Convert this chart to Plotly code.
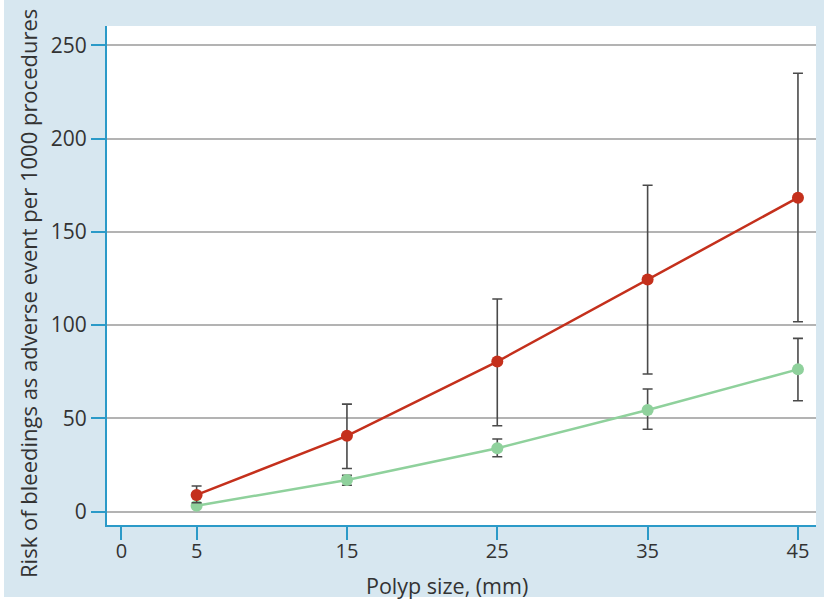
import plotly.graph_objects as go

polyp_size = [5, 15, 25, 35, 45]
red_values = [9, 40.7, 80.5, 124.5, 168.3]
red_upper = [13.8, 57.7, 114, 175, 235]
red_lower = [4.8, 23.2, 46.1, 73.8, 101.8]
green_values = [3.2, 17, 34, 54.5, 76.3]
green_upper = [3.2, 19.5, 39, 65.8, 92.9]
green_lower = [3.2, 14.2, 29.5, 44.2, 59.5]

x_ticks = [0, 5, 15, 25, 35, 45]
y_ticks = [0, 50, 100, 150, 200, 250]

FONT = "Open Sans"
TXT = "#333333"
AXIS_BLUE = "#2b9ac8"
BG_BLUE = "#d7e7f0"

W, H = 824, 599
L, R, T, B = 107, 8, 26, 74
PW, PH = W - L - R, H - T - B

def err(vals, up, lo):
    return dict(type="data", symmetric=False,
                array=[u - v for u, v in zip(up, vals)],
                arrayminus=[v - l for v, l in zip(vals, lo)],
                color="#4a4a4a", thickness=1.6, width=5)

fig = go.Figure()
fig.add_trace(go.Scatter(
    x=polyp_size, y=green_values, mode="lines+markers",
    line=dict(color="#8fd19c", width=2.5),
    marker=dict(color="#8fd19c", size=12),
    error_y=err(green_values, green_upper, green_lower),
    showlegend=False))
fig.add_trace(go.Scatter(
    x=polyp_size, y=red_values, mode="lines+markers",
    line=dict(color="#c4301c", width=2.5),
    marker=dict(color="#c4301c", size=12),
    error_y=err(red_values, red_upper, red_lower),
    showlegend=False))

fig.update_layout(
    width=W, height=H,
    margin=dict(l=L, r=R, t=T, b=B),
    paper_bgcolor=BG_BLUE,
    plot_bgcolor="white",
    font=dict(family=FONT, color=TXT, size=20),
    xaxis=dict(range=[-0.96, 46.2], tickvals=x_ticks, ticktext=[str(v) for v in x_ticks],
               showgrid=False, zeroline=False,
               showline=True, linecolor=AXIS_BLUE, linewidth=2,
               ticks="outside", ticklen=13, tickwidth=2, tickcolor=AXIS_BLUE,
               ticklabelstandoff=-6,
               tickfont=dict(size=20, color=TXT, family=FONT)),
    yaxis=dict(range=[-7.1, 260.3], tickvals=y_ticks,
               showgrid=True, gridcolor="#b3b3b3", gridwidth=1.5, zeroline=False,
               showline=True, linecolor=AXIS_BLUE, linewidth=2,
               ticks="outside", ticklen=14, tickwidth=2, tickcolor=AXIS_BLUE,
               tickfont=dict(size=21, color=TXT, family=FONT)),
    shapes=[
        dict(type="rect", xref="paper", yref="paper", layer="above",
             x0=-L / PW, x1=(4 - L) / PW, y0=-B / PH, y1=(T + PH) / PH,
             fillcolor="white", line=dict(width=0)),
        dict(type="rect", xref="paper", yref="paper", layer="above",
             x0=-L / PW, x1=(W - L) / PW, y0=-B / PH, y1=(T + PH - 597) / PH,
             fillcolor="white", line=dict(width=0)),
    ],
    annotations=[
        dict(text="Polyp size, (mm)", xref="paper", yref="paper",
             x=0.479, y=-0.1222, xanchor="center", yanchor="middle",
             showarrow=False, font=dict(size=21.5, color=TXT, family=FONT)),
        dict(text="Risk of bleedings as adverse event per 1000 procedures",
             xref="paper", yref="paper", x=-0.1114, y=0.463, textangle=-90,
             xanchor="center", yanchor="middle",
             showarrow=False, font=dict(size=22, color=TXT, family=FONT)),
    ],
)

fig.write_html("out.html", config={"displayModeBar": False},
               post_script="document.body.style.margin='0';")
